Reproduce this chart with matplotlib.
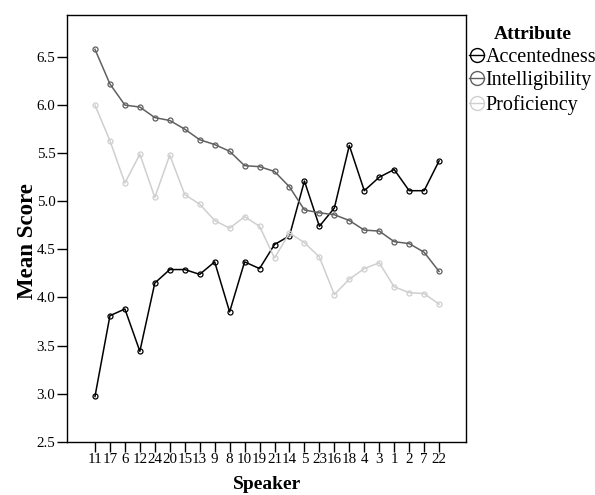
import matplotlib

matplotlib.use("Agg")
import matplotlib.pyplot as plt
from matplotlib.lines import Line2D

plt.rcParams["font.family"] = ["Liberation Serif", "DejaVu Serif"]

speakers = ["11", "17", "6", "12", "24", "20", "15", "13", "9", "8", "10", "19",
            "21", "14", "5", "23", "16", "18", "4", "3", "1", "2", "7", "22"]

accentedness = [2.97, 3.81, 3.88, 3.44, 4.15, 4.29, 4.29, 4.24, 4.37, 3.85, 4.37, 4.30,
                4.55, 4.64, 5.21, 4.74, 4.93, 5.58, 5.11, 5.25, 5.33, 5.11, 5.11, 5.42]
intelligibility = [6.58, 6.22, 6.00, 5.98, 5.87, 5.84, 5.75, 5.64, 5.59, 5.52, 5.37, 5.36,
                   5.31, 5.15, 4.91, 4.88, 4.86, 4.80, 4.70, 4.69, 4.58, 4.56, 4.47, 4.27]
proficiency = [6.00, 5.63, 5.19, 5.49, 5.04, 5.48, 5.07, 4.97, 4.80, 4.72, 4.84, 4.74,
               4.41, 4.67, 4.57, 4.42, 4.03, 4.19, 4.30, 4.36, 4.11, 4.05, 4.04, 3.93]

series = [("Accentedness", accentedness, "#000000"),
          ("Intelligibility", intelligibility, "#606060"),
          ("Proficiency", proficiency, "#cfcfcf")]

fig = plt.figure(figsize=(5.95, 4.95), dpi=100)
ax = fig.add_axes([0.1131, 0.1077, 0.6701, 0.8626])

x = list(range(len(speakers)))
for name, vals, col in series:
    ax.plot(x, vals, color=col, lw=1.1, marker="o", ms=3.6, mfc="none", mec=col, mew=0.9)

ax.set_xlim(-1.85, len(speakers) - 1 + 1.8)
ax.set_ylim(2.5, 6.94)
ax.set_xticks(x)
ax.set_xticklabels(speakers)
ax.set_yticks([2.5, 3.0, 3.5, 4.0, 4.5, 5.0, 5.5, 6.0, 6.5])
ax.set_yticklabels(["2.5", "3.0", "3.5", "4.0", "4.5", "5.0", "5.5", "6.0", "6.5"])
ax.tick_params(axis="both", direction="out", length=7, width=1.0, labelsize=10.8, pad=1.5)
for s in ax.spines.values():
    s.set_linewidth(1.0)

fig.text(0.449, 0.022, "Speaker", ha="center", va="center", fontsize=14, fontweight="bold")
fig.text(0.046, 0.513, "Mean Score", ha="center", va="center", rotation=90,
         fontsize=16.5, fontweight="bold")

handles = [Line2D([], [], color=col, lw=1.0, marker="o", ms=10, mfc="none", mec=col, mew=1.0)
           for _, _, col in series]
leg = fig.legend(handles, [n for n, _, _ in series], loc="upper left",
                 bbox_to_anchor=(0.782, 0.955), frameon=False, fontsize=14.5,
                 title="Attribute", title_fontproperties={"weight": "bold", "size": 14},
                 handlelength=0.75, handletextpad=0.05, labelspacing=0.22,
                 borderaxespad=0, borderpad=0.2)

fig.savefig("out.png", dpi=100)
